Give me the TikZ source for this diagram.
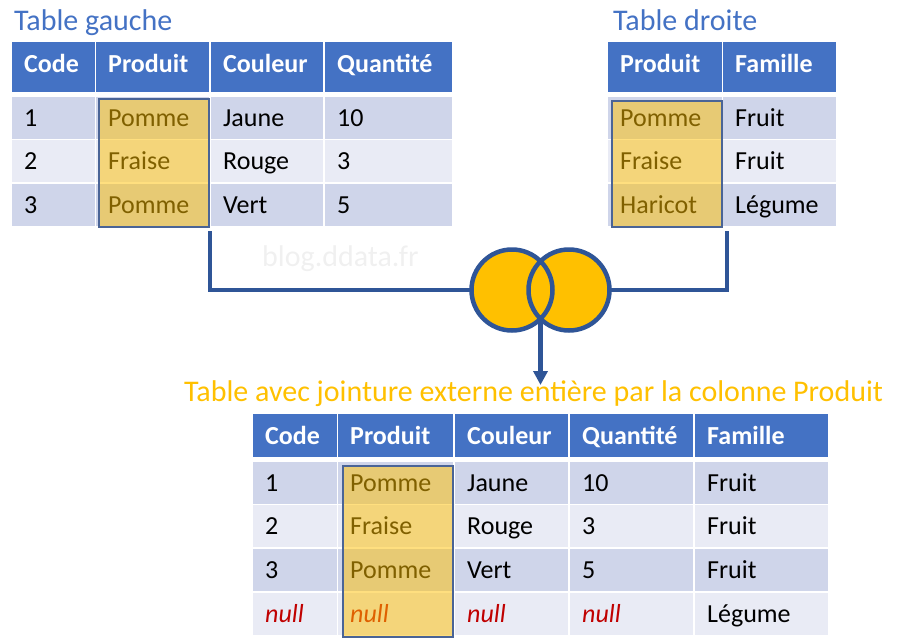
\documentclass[tikz,border=0pt]{standalone}
\usepackage{fontspec}
\setmainfont{Carlito}
\usetikzlibrary{arrows.meta}
\definecolor{hdblue}{HTML}{4472C4}
\definecolor{rowdark}{HTML}{CFD5EA}
\definecolor{rowlight}{HTML}{E9EBF5}
\definecolor{linkblue}{HTML}{2F5597}
\definecolor{selgold}{HTML}{FFC000}
\definecolor{selline}{HTML}{4A6496}
\definecolor{nullred}{HTML}{C00000}
\definecolor{wmark}{HTML}{F0F0F0}
\newcommand{\nul}{\textit{\color{nullred}null}}

\begin{document}
\begin{tikzpicture}[x=1pt, y=-1pt, font=\fontsize{26}{30}\selectfont]
\tikzstyle{head}=[anchor=north west, fill=hdblue, text=white, font=\fontsize{26}{30}\selectfont\bfseries, inner xsep=12pt, inner ysep=0pt, text height=30pt, align=left]
\tikzstyle{cell}=[anchor=north west, inner xsep=12pt, inner ysep=0pt, text height=29.5pt, text depth=12.5pt, align=left]
\tikzstyle{sel}=[anchor=north west, draw=selline, line width=2pt, fill=selgold, fill opacity=0.5, inner sep=0pt]
\tikzstyle{title}=[anchor=base west, inner sep=0pt, font=\fontsize{30}{34}\selectfont]
\tikzstyle{link}=[draw=linkblue, line width=4.5pt]
\tikzstyle{ring}=[circle, minimum size=81pt, inner sep=0pt, fill=selgold]
\useasboundingbox (0,0) rectangle (899,640);

% table gauche
\node[title, text=hdblue] (tg) at (14,30) {Table gauche};
\foreach \x/\w/\t [count=\c] in {12/83/Code, 96/113/Produit, 211/112/Couleur, 325/127/Quantité}{
  \pgfmathsetmacro\tw{\w-24}
  \node[head, text width=\tw pt, text depth=20pt] (g-0-\c) at (\x,42) {\t};
}
\foreach \y/\f/\a/\b/\cc/\d [count=\r] in {97/rowdark/1/Pomme/Jaune/10, 140/rowlight/2/Fraise/Rouge/3, 184/rowdark/3/Pomme/Vert/5}{
  \foreach \x/\w/\v [count=\c] in {12/83/\a, 96/113/\b, 211/112/\cc, 325/127/\d}{
    \pgfmathsetmacro\tw{\w-24}
    \node[cell, fill=\f, text width=\tw pt] (g-\r-\c) at (\x,\y) {\v};
  }
}
\node[sel, minimum width=110, minimum height=128] (gsel) at (98,98) {};

% table droite
\node[title, text=hdblue] (td) at (613,30) {Table droite};
\foreach \x/\w/\t [count=\c] in {608/114/Produit, 723/113/Famille}{
  \pgfmathsetmacro\tw{\w-24}
  \node[head, text width=\tw pt, text depth=20pt] (d-0-\c) at (\x,42) {\t};
}
\foreach \y/\f/\a/\b [count=\r] in {97/rowdark/Pomme/Fruit, 140/rowlight/Fraise/Fruit, 184/rowdark/Haricot/Légume}{
  \foreach \x/\w/\v [count=\c] in {608/114/\a, 723/113/\b}{
    \pgfmathsetmacro\tw{\w-24}
    \node[cell, fill=\f, text width=\tw pt] (d-\r-\c) at (\x,\y) {\v};
  }
}
\node[sel, minimum width=110, minimum height=126] (dsel) at (611,100) {};

% jointure
\node[title, text=wmark] (wm) at (262,266) {blog.ddata.fr};
\node[ring] (jl) at (512,290) {};
\node[ring] (jr) at (569,290) {};
\draw[link] ([yshift=-3pt]gsel.south east) |- (jl.west);
\draw[link] ([xshift=4pt, yshift=-3pt]dsel.south east) |- (jr.east);
\draw[link] (jl.center) circle[radius=40.5pt] (jr.center) circle[radius=40.5pt];
\coordinate (jb) at (540.5,322);
\coordinate (jt) at (540.5,385);
\draw[link, -{Triangle[width=14pt, length=14pt]}] (jb) -- (jt);

% table resultat
\node[title, text=selgold] (tj) at (184,401) {Table avec jointure externe entière par la colonne Produit};
\foreach \x/\w/\t [count=\c] in {253/84/Code, 338/115/Produit, 455/113/Couleur, 570/123/Quantité, 695/133/Famille}{
  \pgfmathsetmacro\tw{\w-24}
  \node[head, text width=\tw pt, text depth=13pt] (j-0-\c) at (\x,414) {\t};
}
\foreach \y/\f/\a/\b/\cc/\d/\e [count=\r] in {462/rowdark/1/Pomme/Jaune/10/Fruit, 505/rowlight/2/Fraise/Rouge/3/Fruit, 549/rowdark/3/Pomme/Vert/5/Fruit, 593/rowlight/\nul/\nul/\nul/\nul/Légume}{
  \foreach \x/\w/\v [count=\c] in {253/84/\a, 338/115/\b, 455/113/\cc, 570/123/\d, 695/133/\e}{
    \pgfmathsetmacro\tw{\w-24}
    \node[cell, fill=\f, text width=\tw pt] (j-\r-\c) at (\x,\y) {\v};
  }
}
\node[sel, minimum width=110, minimum height=171] (jsel) at (342,465) {};
\end{tikzpicture}
\end{document}
